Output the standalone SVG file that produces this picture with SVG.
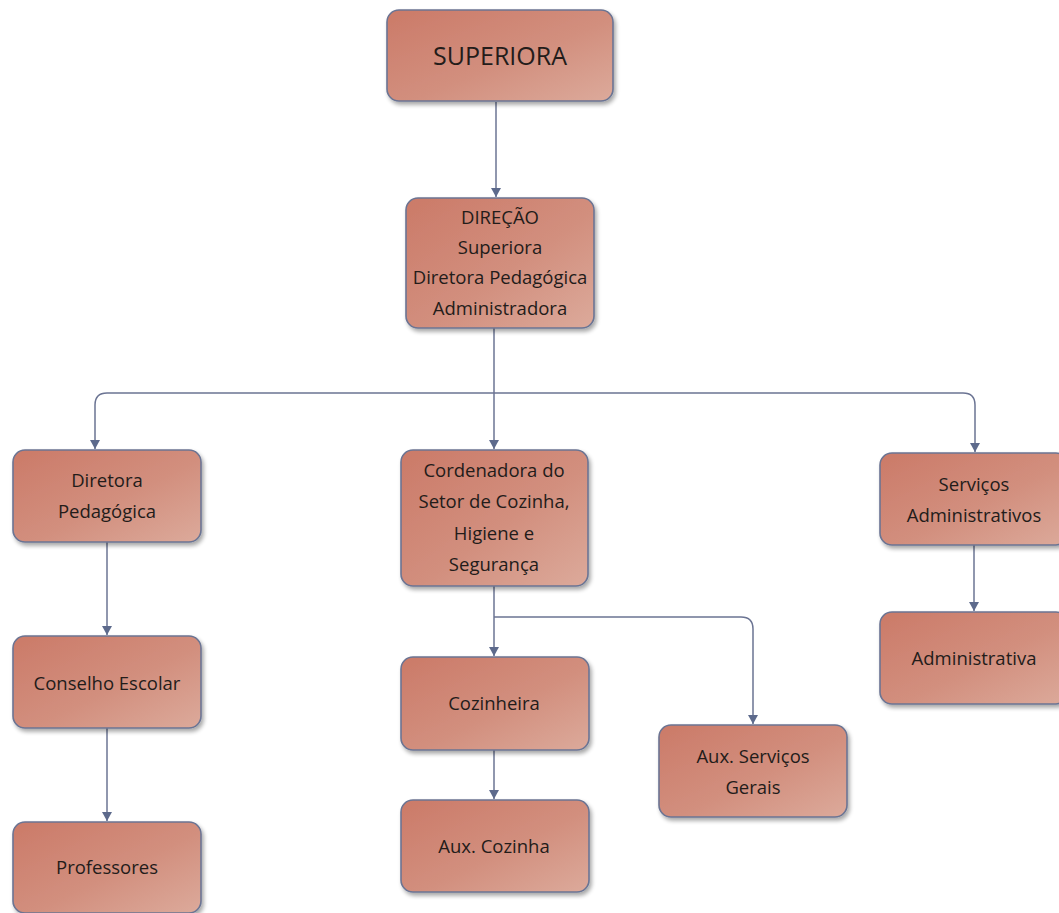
<svg xmlns="http://www.w3.org/2000/svg" width="1059" height="913" viewBox="0 0 1059 913">
<defs>
<linearGradient id="g" x1="0" y1="0" x2="1" y2="1">
<stop offset="0" stop-color="#cb7a68"/>
<stop offset="0.55" stop-color="#d28f7e"/>
<stop offset="1" stop-color="#dcaa9b"/>
</linearGradient>
<filter id="sh" x="-10%" y="-10%" width="130%" height="130%">
<feGaussianBlur in="SourceAlpha" stdDeviation="2"/>
<feOffset dx="2" dy="3"/>
<feComponentTransfer><feFuncA type="linear" slope="0.35"/></feComponentTransfer>
<feMerge><feMergeNode/><feMergeNode in="SourceGraphic"/></feMerge>
</filter>
<marker id="arr" markerWidth="10" markerHeight="10" refX="9" refY="5" orient="auto" markerUnits="userSpaceOnUse" viewBox="0 0 10 10">
<path d="M0,0 L9,5 L0,10 Z" fill="#5d6a8c"/>
</marker>
</defs>
<style>
.box{fill:url(#g);stroke:#6b7493;stroke-width:1.6;filter:url(#sh)}
.t{font-family:"Open Sans","Noto Sans",sans-serif;font-size:18.5px;fill:#231c1a;text-anchor:middle}
.big{font-size:25px}
.c{fill:none;stroke:#6b7493;stroke-width:1.5;marker-end:url(#arr)}
</style>
<rect width="1059" height="913" fill="#ffffff"/>
<g id="connectors">
<path class="c" d="M496,102 V197"/>
<path class="c" d="M494,328 V449"/>
<path class="c" d="M494,393 H107 Q95,393 95,405 V449"/>
<path class="c" d="M494,393 H963 Q975,393 975,405 V452"/>
<path class="c" d="M107,542 V635"/>
<path class="c" d="M107,728 V821"/>
<path class="c" d="M494,586 V656"/>
<path class="c" d="M494,617 H741 Q753,617 753,629 V724"/>
<path class="c" d="M494,750 V799"/>
<path class="c" d="M974,545 V611"/>
</g>
<g id="superiora"><rect class="box" x="387" y="10" width="226" height="91" rx="12"/><text class="t big" x="500" y="65">SUPERIORA</text></g>
<g id="direcao"><rect class="box" x="406" y="198" width="188" height="130" rx="12"/>
<text class="t" x="500" y="224">DIREÇÃO</text><text class="t" x="500" y="254">Superiora</text><text class="t" x="500" y="284">Diretora Pedagógica</text><text class="t" x="500" y="315">Administradora</text></g>
<g id="diretora"><rect class="box" x="13" y="450" width="188" height="92" rx="12"/>
<text class="t" x="107" y="487">Diretora</text><text class="t" x="107" y="518">Pedagógica</text></g>
<g id="cordenadora"><rect class="box" x="401" y="450" width="187" height="136" rx="12"/>
<text class="t" x="494" y="477">Cordenadora do</text><text class="t" x="494" y="508">Setor de Cozinha,</text><text class="t" x="494" y="540">Higiene e</text><text class="t" x="494" y="571">Segurança</text></g>
<g id="servicos"><rect class="box" x="880" y="453" width="188" height="92" rx="12"/>
<text class="t" x="974" y="491">Serviços</text><text class="t" x="974" y="522">Administrativos</text></g>
<g id="administrativa"><rect class="box" x="880" y="612" width="188" height="92" rx="12"/>
<text class="t" x="974" y="665">Administrativa</text></g>
<g id="conselho"><rect class="box" x="13" y="636" width="188" height="92" rx="12"/>
<text class="t" x="107" y="690">Conselho Escolar</text></g>
<g id="professores"><rect class="box" x="13" y="822" width="188" height="91" rx="12"/>
<text class="t" x="107" y="874">Professores</text></g>
<g id="cozinheira"><rect class="box" x="401" y="657" width="188" height="93" rx="12"/>
<text class="t" x="494" y="710">Cozinheira</text></g>
<g id="auxcozinha"><rect class="box" x="401" y="800" width="188" height="92" rx="12"/>
<text class="t" x="494" y="853">Aux. Cozinha</text></g>
<g id="auxservicos"><rect class="box" x="659" y="725" width="188" height="92" rx="12"/>
<text class="t" x="753" y="763">Aux. Serviços</text><text class="t" x="753" y="794">Gerais</text></g>
</svg>
